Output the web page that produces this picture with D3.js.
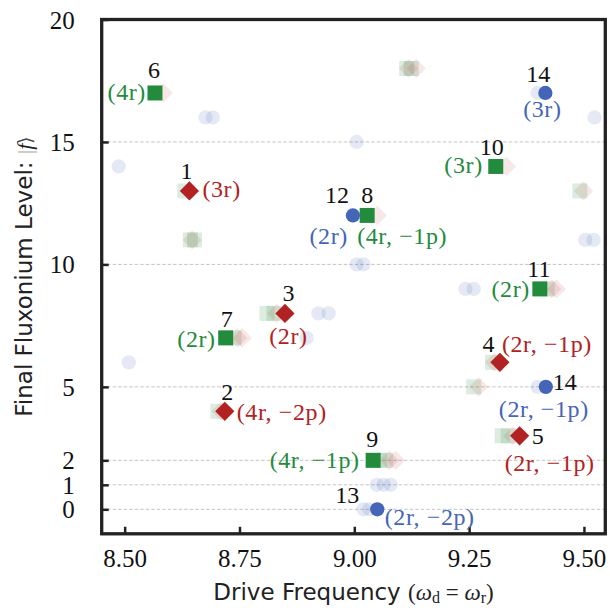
<!DOCTYPE html>
<html>
<head>
<meta charset="utf-8">
<script src="https://cdn.jsdelivr.net/npm/d3@7"></script>
<style>
  html, body { margin: 0; padding: 0; background: #fff; }
  svg { display: block; }
</style>
</head>
<body>
<svg id="chart" width="610" height="608"></svg>
<script>
// ---------- DATA ----------
const xTicks = [8.50, 8.75, 9.00, 9.25, 9.50];
const yTicks = [0, 1, 2, 5, 10, 15, 20];

// main (highlighted) transitions
const redFreq   = [8.641, 8.849, 8.718, 9.317, 9.360];
const redLevel  = [13, 8, 4, 6, 3];
const redIds    = ["1", "3", "2", "4", "5"];
const redModes  = ["(3r)", "(2r)", "(4r, \u22122p)", "(2r, \u22121p)", "(2r, \u22121p)"];

const greenFreq  = [8.566, 9.308, 9.028, 9.404, 8.720, 9.041];
const greenLevel = [17, 14, 12, 9, 7, 2];
const greenIds   = ["6", "10", "8", "11", "7", "9"];
const greenModes = ["(4r)", "(3r)", "(4r, \u22121p)", "(2r)", "(2r)", "(4r, \u22121p)"];

const blueFreq  = [9.416, 8.997, 9.417, 9.050];
const blueLevel = [17, 12, 5, 0];
const blueIds   = ["14", "12", "14", "13"];
const blueModes = ["(3r)", "(2r)", "(2r, \u22121p)", "(2r, \u22122p)"];

// faint neighbouring transitions
const faintBlueFreq  = [8.487, 8.509, 8.676, 8.692, 9.005, 9.005, 9.020, 8.922, 8.944, 8.896,
                        9.242, 9.260, 9.503, 9.521, 9.523, 9.399, 9.399, 9.020, 9.033,
                        9.049, 9.064, 9.079];
const faintBlueLevel = [14, 6, 16, 16, 15, 10, 10, 8, 8, 7,
                        9, 9, 11, 11, 16, 17, 5, 0, 0,
                        1, 1, 1];

const faintGreenFreq  = [9.114, 9.124, 8.643, 8.652, 8.631, 8.810, 8.825, 8.738, 9.491,
                         9.420, 9.301, 9.260, 9.322, 9.335, 8.703, 9.055, 9.068];
const faintGreenLevel = [18, 18, 11, 11, 13, 8, 8, 7, 13,
                         9, 6, 5, 3, 3, 4, 2, 2];

const faintRedFreq  = [9.118, 9.135, 8.647, 8.831, 8.746, 8.756, 8.584, 9.331, 9.499,
                       9.050, 9.430, 9.440, 9.305, 9.271, 9.345, 8.710, 9.076, 9.090];
const faintRedLevel = [18, 18, 11, 8, 7, 7, 17, 14, 13,
                       12, 9, 9, 6, 5, 3, 4, 2, 2];

// ---------- LAYOUT / STYLE ----------
const COLORS = { red: "#b22222", green: "#238b3c", blue: "#4565b9" };
const SERIF = "'Liberation Serif', 'Times New Roman', serif";
const SANS = "'DejaVu Sans', sans-serif";

// label placement per point: [numDx, numDy, numAnchor, modeDx, modeDy, modeAnchor]
const redPlace = [
  [-3, -12, "middle", 13, 6, "start"],
  [3.5, -12, "middle", 3.5, 31, "middle"],
  [2.5, -11.5, "middle", 12, 8.5, "start"],
  [-11.5, -10.5, "middle", 2, -10.5, "start"],
  [12, 8, "start", 30, 35, "middle"]
];
const greenPlace = [
  [-1, -15, "middle", -9, 7, "end"],
  [-4, -11, "middle", -13, 7, "end"],
  [0, -12, "middle", -10, 29, "start"],
  [-1, -12, "middle", -10, 8, "end"],
  [1, -11, "middle", -10, 9, "end"],
  [-1, -13.5, "middle", -13.5, 7.5, "end"]
];
const bluePlace = [
  [-7, -11, "middle", -3, 24, "middle"],
  [-16, -12, "middle", -5, 29, "end"],
  [7, 3, "start", -2, 30, "middle"],
  [-30, -6, "middle", 7.5, 16, "start"]
];

const svg = d3.select("#chart");
const mLeft = 101.7, mRight = 605.3, mTop = 19.5, mBottom = 533.8;

const x = d3.scaleLinear().domain([8.45, 9.5465]).range([mLeft, mRight]);
const y = d3.scaleLinear().domain([-1, 20]).range([mBottom, mTop]);

// grid
svg.append("g").selectAll("line")
  .data(yTicks.filter(d => d < 20))
  .join("line")
  .attr("x1", mLeft).attr("x2", mRight)
  .attr("y1", d => y(d)).attr("y2", d => y(d))
  .attr("stroke", "#c4c4c4").attr("stroke-width", 1)
  .attr("stroke-dasharray", "3.5,2");

// axes
const xAxis = d3.axisBottom(x).tickValues(xTicks).tickFormat(d3.format(".2f"))
  .tickSizeInner(-7).tickSizeOuter(0).tickPadding(15);
const gx = svg.append("g").attr("transform", `translate(0,${mBottom})`).call(xAxis);
gx.select(".domain").remove();
gx.selectAll(".tick line").attr("stroke", "#222").attr("stroke-width", 2.5);
gx.selectAll(".tick text").attr("font-family", SERIF).attr("font-size", 25).attr("fill", "#111");

const yAxis = d3.axisLeft(y).tickValues(yTicks).tickFormat(d3.format("d"))
  .tickSizeInner(-7).tickSizeOuter(0).tickPadding(27);
const gy = svg.append("g").attr("transform", `translate(${mLeft},0)`).call(yAxis);
gy.select(".domain").remove();
gy.selectAll(".tick line").attr("stroke", "#222").attr("stroke-width", 2.5);
gy.selectAll(".tick text").attr("font-family", SERIF).attr("font-size", 25).attr("fill", "#111")
  .attr("dy", "0.34em");

// symbols
const sq = d3.symbol().type(d3.symbolSquare).size(225)();
const dia = d3.symbol().type(d3.symbolSquare).size(185)();
const circ = d3.symbol().type(d3.symbolCircle).size(160)();

const marks = svg.append("g");
function faint(freqs, levels, path, color, opacity, rotate) {
  marks.append("g").selectAll("path")
    .data(freqs.map((f, i) => [f, levels[i]]))
    .join("path")
    .attr("d", path)
    .attr("transform", d => `translate(${x(d[0])},${y(d[1])})` + (rotate ? " rotate(45)" : ""))
    .attr("fill", color).attr("fill-opacity", opacity);
}
faint(faintBlueFreq, faintBlueLevel, circ, COLORS.blue, 0.14, false);
faint(faintGreenFreq, faintGreenLevel, sq, COLORS.green, 0.16, false);
faint(faintRedFreq, faintRedLevel, dia, COLORS.red, 0.11, true);

function main(freqs, levels, ids, modes, place, path, color, rotate) {
  const data = freqs.map((f, i) => ({ f, l: levels[i], id: ids[i], mode: modes[i], p: place[i] }));
  const g = svg.append("g");
  g.selectAll("path").data(data).join("path")
    .attr("d", path)
    .attr("transform", d => `translate(${x(d.f)},${y(d.l)})` + (rotate ? " rotate(45)" : ""))
    .attr("fill", color);
  g.selectAll("text.num").data(data).join("text").attr("class", "num")
    .attr("x", d => x(d.f) + d.p[0]).attr("y", d => y(d.l) + d.p[1])
    .attr("text-anchor", d => d.p[2])
    .attr("font-family", SERIF).attr("font-size", 24).attr("fill", "#111")
    .text(d => d.id);
  g.selectAll("text.mode").data(data).join("text").attr("class", "mode")
    .attr("x", d => x(d.f) + d.p[3]).attr("y", d => y(d.l) + d.p[4])
    .attr("text-anchor", d => d.p[5])
    .attr("font-family", SERIF).attr("font-size", 24).attr("fill", color)
    .attr("letter-spacing", 0.6)
    .text(d => d.mode);
}
main(greenFreq, greenLevel, greenIds, greenModes, greenPlace, sq, COLORS.green, false);
main(blueFreq, blueLevel, blueIds, blueModes, bluePlace, circ, COLORS.blue, false);
main(redFreq, redLevel, redIds, redModes, redPlace, dia, COLORS.red, true);

// frame
svg.append("rect")
  .attr("x", mLeft).attr("y", mTop)
  .attr("width", mRight - mLeft).attr("height", mBottom - mTop)
  .attr("fill", "none").attr("stroke", "#222").attr("stroke-width", 3.3);

// x label
const xl = svg.append("text")
  .attr("x", (mLeft + mRight) / 2).attr("y", 600)
  .attr("text-anchor", "middle").attr("fill", "#222");
xl.append("tspan").attr("font-family", SANS).attr("font-size", 23).text("Drive Frequency ");
xl.append("tspan").attr("font-family", SERIF).attr("font-size", 23).text(" (");
xl.append("tspan").attr("font-family", SERIF).attr("font-size", 23).attr("font-style", "italic").text("\u03c9");
xl.append("tspan").attr("font-family", SERIF).attr("font-size", 16).attr("dy", 3).text("d");
xl.append("tspan").attr("font-family", SERIF).attr("font-size", 23).attr("dy", -3).text(" = ");
xl.append("tspan").attr("font-family", SERIF).attr("font-size", 23).attr("font-style", "italic").text("\u03c9");
xl.append("tspan").attr("font-family", SERIF).attr("font-size", 16).attr("dy", 3).text("r");
xl.append("tspan").attr("font-family", SERIF).attr("font-size", 23).attr("dy", -3).text(")");

// y label
const yl = svg.append("text")
  .attr("transform", `translate(32,${(mTop + mBottom) / 2}) rotate(-90)`)
  .attr("text-anchor", "middle").attr("fill", "#222");
yl.append("tspan").attr("font-family", SANS).attr("font-size", 23).text("Final Fluxonium Level: ");
yl.append("tspan").attr("font-family", SERIF).attr("font-size", 22).attr("fill", "#aaa").text("|");
yl.append("tspan").attr("font-family", SERIF).attr("font-size", 22).attr("font-style", "italic").text("f");
yl.append("tspan").attr("font-family", "'DejaVu Serif', serif").attr("font-size", 18).attr("fill", "#444").text("\u27e9");
</script>
</body>
</html>
